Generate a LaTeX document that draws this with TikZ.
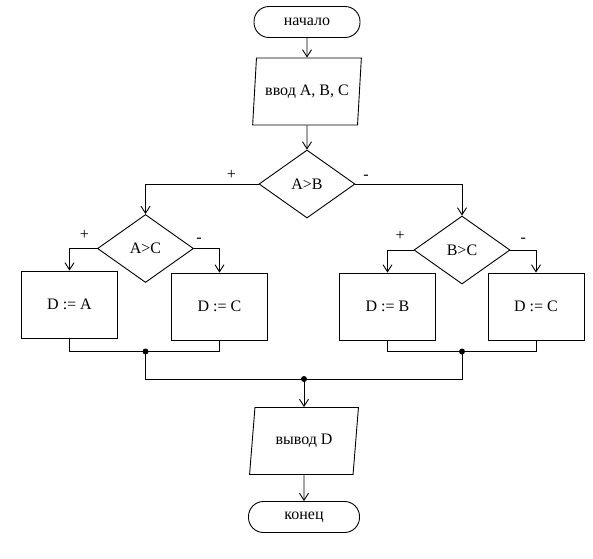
\documentclass[tikz,border=0pt]{standalone}
\usepackage{fontspec}
\setmainfont{Liberation Serif}
\usetikzlibrary{shapes.geometric, arrows.meta, positioning}

\begin{document}
\begin{tikzpicture}[
        x=1pt,
        y=-1pt,
        font=\fontsize{16}{19}\selectfont,
        line width=0.9pt,
        term/.style={draw, rectangle, rounded corners=15pt, minimum width=106pt, minimum height=31pt, inner sep=0pt},
        io/.style={draw, trapezium, trapezium left angle=77, trapezium right angle=103, trapezium stretches=true, minimum width=109pt, minimum height=67pt, inner sep=0pt},
        cond/.style={draw, diamond, minimum width=96pt, minimum height=68pt, inner sep=0pt},
        proc/.style={draw, rectangle, minimum width=96pt, minimum height=67pt, inner sep=0pt},
        link/.style={-{Straight Barb[length=7pt, width=9pt]}},
        rel/.style={inner sep=4pt}
    ]
        \useasboundingbox (0,0) rectangle (593,558);

        \node[term] (start) at (307,22) {начало};
        \node[io] (input) at (307,91.5) {ввод A, B, C};
        \node[cond] (ab) at (307,184) {A>B};
        \node[cond] (ac) at (145.5,248.5) {A>C};
        \node[cond] (bc) at (462,250) {B>C};
        \node[proc] (da) at (69.5,304.5) {D := A};
        \node[proc] (dc1) at (219.5,306.5) {D := C};
        \node[proc] (db) at (387.5,306.5) {D := B};
        \node[proc] (dc2) at (536,306.5) {D := C};
        \node[io] (output) at (304,441) {вывод D};
        \node[term, minimum width=111pt] (stop) at (304,517) {конец};

        \draw[link] (start) -- (input);
        \draw[link] (input) -- (ab);
        \draw[link] (ab.west) -| node[rel, pos=0.12, above] {+} (ac.north);
        \draw[link] (ab.east) -| node[rel, pos=0.05, above] {-} (bc.north);
        \draw[link] (ac.west) -| node[rel, pos=0.23, above, yshift=5pt] {+} (da.north);
        \draw[link] (ac.east) -| node[rel, pos=0.1, above, yshift=2pt] {-} (dc1.north);
        \draw[link] (bc.west) -| node[rel, pos=0.26, above, yshift=5pt] {+} (db.north);
        \draw[link] (bc.east) -| node[rel, pos=0.25, above, yshift=3pt] {-} (dc2.north);

        \coordinate (j1) at (145.5,351.5);
        \coordinate (j2) at (462,351.5);
        \coordinate (j3) at (304,379);
        \draw (da.south) |- (j1) -| (dc1.south);
        \draw (db.south) |- (j2) -| (dc2.south);
        \draw (j1) |- (j3) -| (j2);
        \fill (j1) circle (3pt) (j2) circle (3pt) (j3) circle (3pt);

        \draw[link] (j3) -- (output);
        \draw[link] (output) -- (stop);
    \end{tikzpicture}
\end{document}
